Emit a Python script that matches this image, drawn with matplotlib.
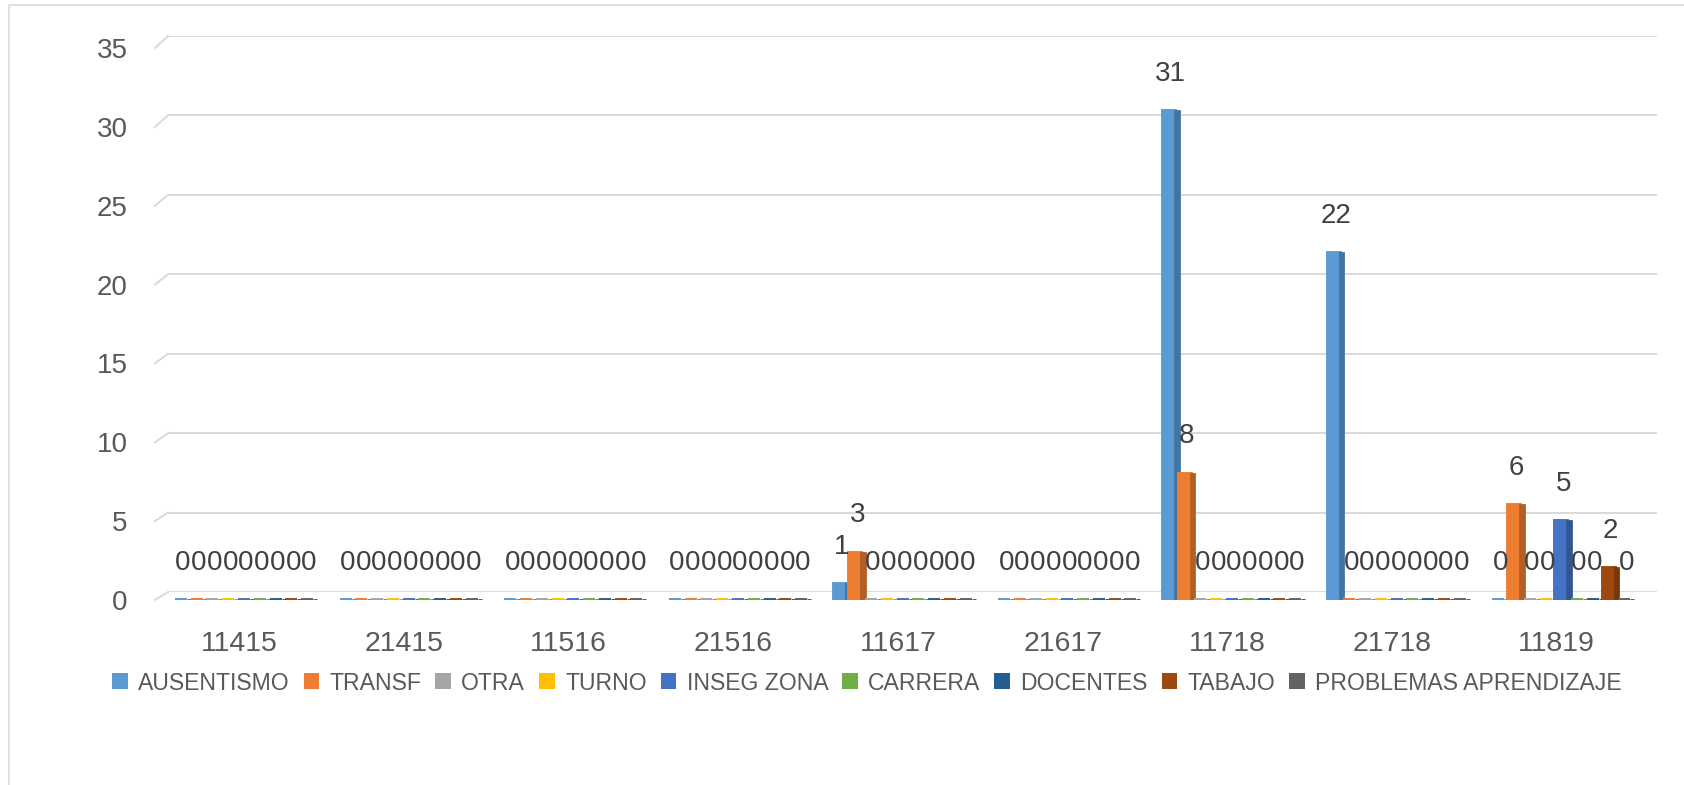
import numpy as np
import matplotlib
matplotlib.use("Agg")
import matplotlib.pyplot as plt
from matplotlib.lines import Line2D
from matplotlib.patches import Rectangle, Patch
from matplotlib.colors import to_rgb

categories = ["11415", "21415", "11516", "21516", "11617", "21617", "11718", "21718", "11819"]
series_names = ["AUSENTISMO", "TRANSF", "OTRA", "TURNO", "INSEG ZONA", "CARRERA",
                "DOCENTES", "TABAJO", "PROBLEMAS APRENDIZAJE"]
ausentismo = [0, 0, 0, 0, 1, 0, 31, 22, 0]
transf = [0, 0, 0, 0, 3, 0, 8, 0, 6]
otra = [0, 0, 0, 0, 0, 0, 0, 0, 0]
turno = [0, 0, 0, 0, 0, 0, 0, 0, 0]
inseg_zona = [0, 0, 0, 0, 0, 0, 0, 0, 5]
carrera = [0, 0, 0, 0, 0, 0, 0, 0, 0]
docentes = [0, 0, 0, 0, 0, 0, 0, 0, 0]
tabajo = [0, 0, 0, 0, 0, 0, 0, 0, 2]
problemas = [0, 0, 0, 0, 0, 0, 0, 0, 0]
series_values = [ausentismo, transf, otra, turno, inseg_zona, carrera, docentes, tabajo, problemas]
colors = ["#5B9BD5", "#ED7D31", "#A5A5A5", "#FFC000", "#4472C4", "#70AD47",
          "#255E91", "#9E480E", "#636363"]
yticks = [0, 5, 10, 15, 20, 25, 30, 35]

plt.rcParams['font.family'] = ['Liberation Sans', 'DejaVu Sans']

W, H = 1684, 785
fig = plt.figure(figsize=(W / 100, H / 100), dpi=100)
fig.patch.set_facecolor("white")

def px_axes(left, top, right, bottom):
    return [left / W, (H - bottom) / H, (right - left) / W, (bottom - top) / H]

# back wall (gridlines)
ax_back = fig.add_axes(px_axes(168, 36, 1657, 592))
ax_back.set_xlim(0, 1)
ax_back.set_ylim(0, 35)
ax_back.axis("off")
for v in yticks:
    ax_back.axhline(v, color="#D9D9D9", lw=1.4, zorder=0)

# front plane (bars, ticks)
ax = fig.add_axes(px_axes(157, 48, 1639, 600))
ax.patch.set_alpha(0)
ax.set_xlim(-0.5, len(categories) - 0.5)
ax.set_ylim(0, 35)
for s in ax.spines.values():
    s.set_visible(False)
ax.set_yticks(yticks)
ax.set_yticklabels([str(v) for v in yticks])
ax.set_xticks(np.arange(len(categories)))
ax.set_xticklabels(categories)
ax.tick_params(axis="y", length=0, pad=21, labelsize=20, labelcolor="#595959")
ax.tick_params(axis="x", length=0, pad=22, labelsize=20.5, labelcolor="#595959")

# diagonal stubs linking front axis to back wall
fig.canvas.draw()
inv = fig.transFigure.inverted()
for v in yticks:
    p0 = ax.transData.transform((-0.5, v))
    p1 = ax_back.transData.transform((0, v))
    (x0, y0), (x1, y1) = inv.transform([p0, p1])
    fig.add_artist(Line2D([x0 - 0.0012, x1], [y0, y1], color="#D9D9D9", lw=1.4,
                          transform=fig.transFigure, zorder=0))

n = len(series_names)
x = np.arange(len(categories))
group = 0.862
w = group / n
shift = 0.04
front_frac = 0.76
for i, (vals, c) in enumerate(zip(series_values, colors)):
    pos = x + (i - (n - 1) / 2) * w + shift
    dark = tuple(np.array(to_rgb(c)) * 0.75)
    left_edge = pos - w / 2
    ax.bar(left_edge, vals, width=w * front_frac, align="edge", color=c,
           edgecolor=c, linewidth=2.8, zorder=3)
    ax.bar(left_edge + w * front_frac, vals, width=w * (1 - front_frac), align="edge",
           color=dark, edgecolor=dark, linewidth=2.0, zorder=3)
    for xp, v in zip(pos, vals):
        ax.annotate(str(v), (xp, v), xytext=(0, 27), textcoords="offset points",
                    ha="center", va="center", fontsize=20, color="#404040", zorder=5)

handles = [Patch(facecolor=c, edgecolor="none") for c in colors]
fig.legend(handles, series_names, loc="center", bbox_to_anchor=(867 / W, (H - 683) / H),
           ncol=n, frameon=False, fontsize=16.6, handlelength=0.68, handleheight=0.68,
           handletextpad=0.45, columnspacing=0.6, labelcolor="#595959",
           borderpad=0, borderaxespad=0)

# chart border
fig.add_artist(Rectangle((9 / W, -0.1), 1.2, (H - 5) / H + 0.1, transform=fig.transFigure,
                         fill=False, edgecolor="#D9D9D9", lw=1.2, zorder=0))

fig.savefig("out.png", dpi=100, facecolor="white")
